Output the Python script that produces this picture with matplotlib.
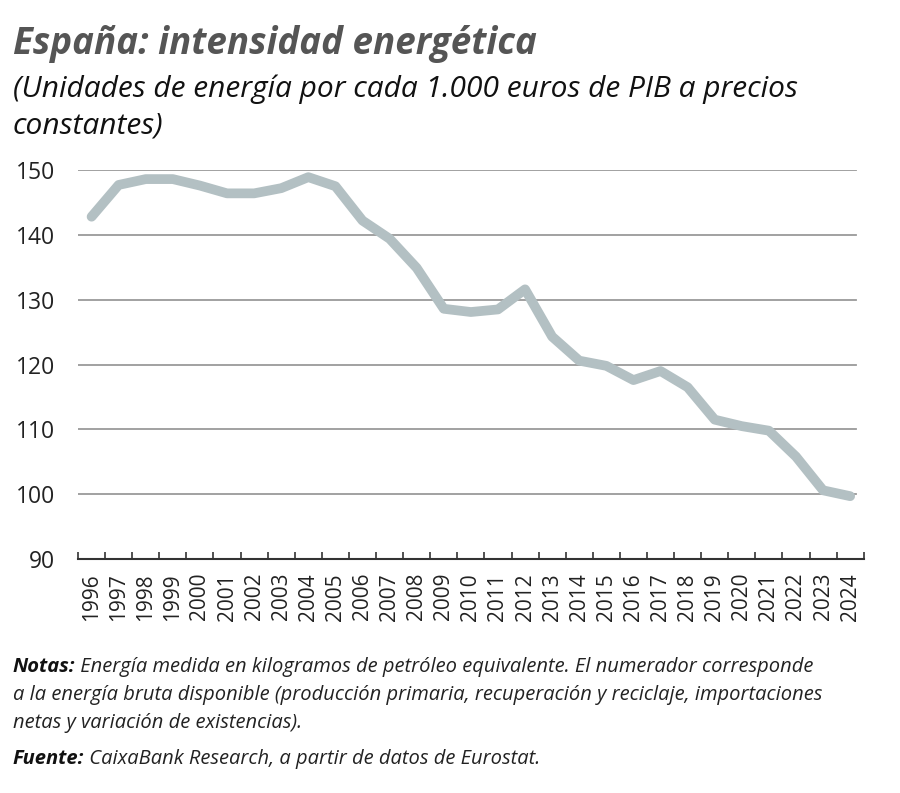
import matplotlib
matplotlib.use("Agg")
import matplotlib.pyplot as plt
from matplotlib import font_manager

years = [str(y) for y in range(1996, 2025)]
values = [142.8, 147.7, 148.6, 148.6, 147.6, 146.4, 146.4, 147.2, 148.9, 147.5,
          142.2, 139.4, 134.9, 128.6, 128.1, 128.5, 131.6, 124.3, 120.6, 119.8,
          117.6, 119.0, 116.5, 111.5, 110.5, 109.8, 105.8, 100.6, 99.7]
yticks = [90, 100, 110, 120, 130, 140, 150]

names = {f.name for f in font_manager.fontManager.ttflist}
fam = "Liberation Sans Narrow" if "Liberation Sans Narrow" in names else "Open Sans"
plt.rcParams['font.family'] = [fam, 'DejaVu Sans']

fig = plt.figure(figsize=(9, 7.93), dpi=100)
ax = fig.add_axes([0.0867, 0.295, 0.873, 0.4906])

x = list(range(len(years)))
ax.plot(x, values, color="#b3c0c3", lw=7, solid_capstyle="round",
        solid_joinstyle="round", clip_on=False, zorder=3)

ax.set_xlim(-0.5, len(years) - 0.5)
ax.set_ylim(90, 150)
ax.set_yticks(yticks)
ax.set_yticklabels([str(v) for v in yticks], fontsize=16.5, color="#222222")
for v in yticks[1:]:
    ax.axhline(v, color="#9a9a9a", lw=1.3, zorder=1, xmax=0.99)
ax.tick_params(axis="y", length=0, pad=16.5)

ax.set_xticks([i - 0.5 for i in range(len(years) + 1)])
ax.set_xticklabels([])
ax.set_xticks(x, minor=True)
ax.set_xticklabels(years, minor=True, rotation=90, fontsize=15, color="#222222")
ax.tick_params(axis="x", which="major", length=5, width=1.2, color="#333333", direction="in")
ax.tick_params(axis="x", which="minor", length=0, pad=10)

for s in ["top", "right", "left"]:
    ax.spines[s].set_visible(False)
ax.spines["bottom"].set_color("#333333")
ax.spines["bottom"].set_linewidth(1.5)

fig.text(0.014, 0.944, "España: intensidad energética", fontsize=26.5, fontweight="bold",
         style="italic", color="#555555", va="center")
fig.text(0.014, 0.888, "(Unidades de energía por cada 1.000 euros de PIB a precios",
         fontsize=21.5, style="italic", color="#111111", va="center")
fig.text(0.014, 0.841, "constantes)", fontsize=21.5, style="italic", color="#111111", va="center")

fs = 14.5
t1 = fig.text(0.014, 0.153, "Notas:", fontsize=fs, fontweight="bold", style="italic",
              color="#111111", va="baseline")
ax.annotate(" Energía medida en kilogramos de petróleo equivalente. El numerador corresponde",
            xy=(1, 0), xycoords=t1, fontsize=fs, style="italic", color="#222222",
            va="bottom", ha="left", annotation_clip=False)
fig.text(0.014, 0.117, "a la energía bruta disponible (producción primaria, recuperación y reciclaje, importaciones",
         fontsize=fs, style="italic", color="#222222", va="baseline")
fig.text(0.014, 0.082, "netas y variación de existencias).",
         fontsize=fs, style="italic", color="#222222", va="baseline")
t2 = fig.text(0.014, 0.036, "Fuente:", fontsize=fs, fontweight="bold", style="italic",
              color="#111111", va="baseline")
ax.annotate(" CaixaBank Research, a partir de datos de Eurostat.",
            xy=(1, 0), xycoords=t2, fontsize=fs, style="italic", color="#222222",
            va="bottom", ha="left", annotation_clip=False)

fig.savefig("out.png", dpi=100)
